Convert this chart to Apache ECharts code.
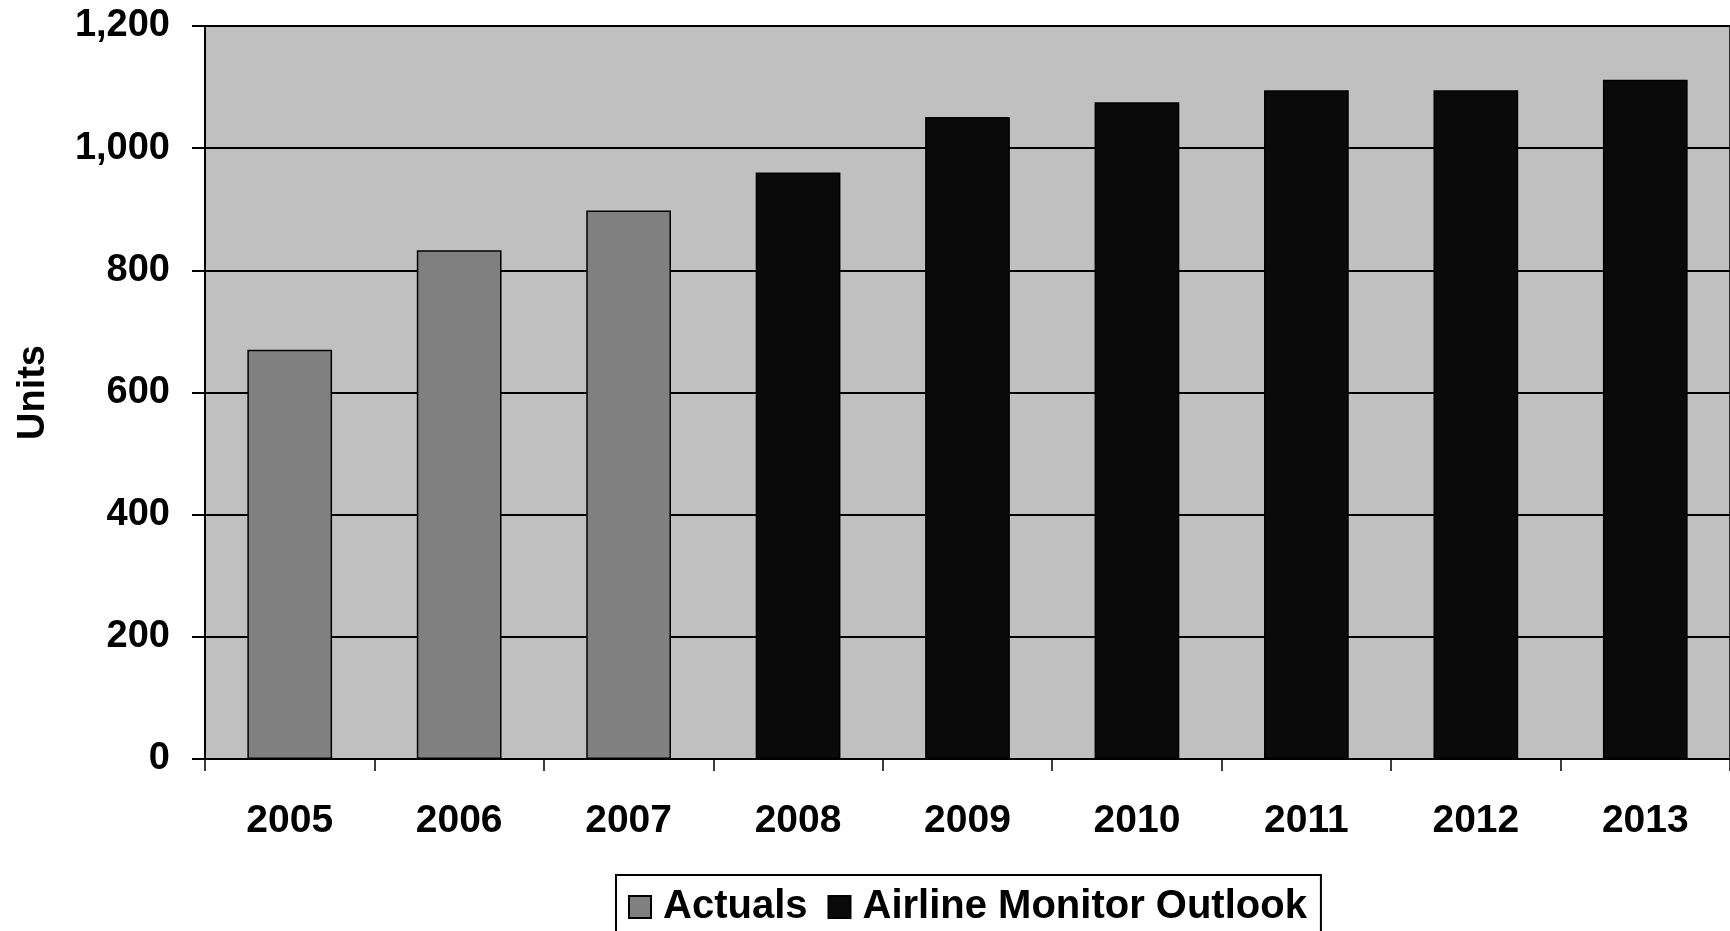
<!DOCTYPE html>
<html>
<head>
<meta charset="utf-8">
<script src="https://cdn.jsdelivr.net/npm/echarts@6/dist/echarts.min.js"></script>
<style>
  html, body { margin: 0; padding: 0; background: #fff; }
  #chart { width: 1730px; height: 931px; }
</style>
</head>
<body>
<div id="chart"></div>
<script>
// years on the x axis
var years = ['2005', '2006', '2007', '2008', '2009', '2010', '2011', '2012', '2013'];
// actual deliveries (units), null where forecast
var actuals = [670, 833, 898, null, null, null, null, null, null];
// Airline Monitor forecast (units)
var outlook = [null, null, null, 960, 1051, 1075, 1095, 1095, 1112];
var yTicks = {min: 0, max: 1200, interval: 200};

var FONT = '"Liberation Sans", Arial, sans-serif';

var chart = echarts.init(document.getElementById('chart'));

var option = {
    animation: false,
    backgroundColor: '#ffffff',
    textStyle: {fontFamily: FONT},
    grid: {
        left: 205,
        top: 26,
        right: -2,
        bottom: 172,
        show: true,
        backgroundColor: '#c0c0c0',
        borderColor: '#000',
        borderWidth: 1.5
    },
    legend: {
        left: 616,
        top: 875,
        padding: [12, 14, 14, 12],
        itemGap: 20,
        itemWidth: 22,
        itemHeight: 22,
        icon: 'rect',
        borderColor: '#000',
        borderWidth: 2,
        backgroundColor: '#fff',
        textStyle: {fontSize: 40, fontWeight: 'bold', color: '#000', fontFamily: FONT, padding: [0, 0, 0, 7]},
        data: ['Actuals', 'Airline Monitor Outlook']
    },
    xAxis: {
        type: 'category',
        data: years,
        axisLine: {lineStyle: {color: '#000', width: 2}},
        axisTick: {show: true, length: 12, lineStyle: {color: '#000', width: 1.5}},
        axisLabel: {fontSize: 39, fontWeight: 'bold', color: '#000', margin: 43, fontFamily: FONT}
    },
    yAxis: {
        type: 'value',
        min: yTicks.min,
        max: yTicks.max,
        interval: yTicks.interval,
        name: 'Units',
        nameLocation: 'middle',
        nameRotate: 90,
        nameGap: 152,
        nameTextStyle: {fontSize: 38, fontWeight: 'bold', color: '#000', fontFamily: FONT},
        axisLine: {show: true, lineStyle: {color: '#000', width: 2}},
        axisTick: {show: true, length: 13, lineStyle: {color: '#000', width: 2}},
        splitLine: {show: true, lineStyle: {color: '#000', width: 2}},
        axisLabel: {
            fontSize: 38, fontWeight: 'bold', color: '#000', margin: 35, fontFamily: FONT,
            formatter: function (v) { return v.toLocaleString('en-US'); }
        }
    },
    series: [
        {
            name: 'Actuals',
            type: 'bar',
            stack: 'units',
            barWidth: '50%',
            data: actuals,
            itemStyle: {color: '#808080', borderColor: '#000', borderWidth: 1.5}
        },
        {
            name: 'Airline Monitor Outlook',
            type: 'bar',
            stack: 'units',
            barWidth: '50%',
            data: outlook,
            itemStyle: {color: '#0a0a0a', borderColor: '#000', borderWidth: 1.5}
        }
    ]
};

chart.setOption(option);
</script>
</body>
</html>
